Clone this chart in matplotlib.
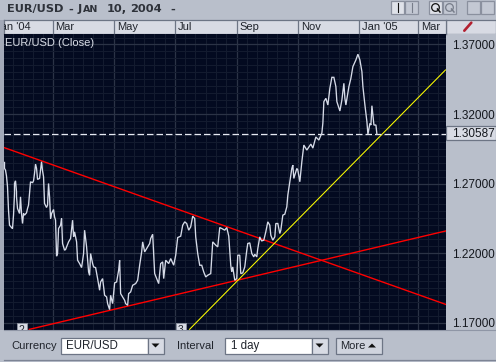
import matplotlib
matplotlib.use("Agg")
import matplotlib.pyplot as plt
from matplotlib.patches import Rectangle, Polygon
from matplotlib.transforms import blended_transform_factory
import numpy as np

# ---- data: x = days since 1 Jan 2004, y = EUR/USD close
days = [12,12,13,14,15,16,17,19,20,21,22,22,23,24,24,25,27,28,29,30,31,32,34,35,36,38,40,41,42,43,44,45,47,48,49,50,51,52,54,55,56,57,58,59,61,62,63,64,65,66,68,69,70,72,73,76,78,80,81,82,84,85,87,89,91,92,94,96,97,98,100,101,103,105,107,108,110,112,114,115,117,118,120,122,124,126,127,128,130,132,133,135,136,138,140,143,145,147,149,150,152,154,157,158,160,161,162,164,166,168,170,171,173,176,178,181,183,185,188,190,192,194,196,198,200,202,203,205,207,209,211,213,215,218,219,220,223,225,227,229,232,234,236,238,239,240,242,244,245,247,248,250,252,254,255,257,259,261,262,264,265,267,268,269,271,273,275,277,278,280,282,283,285,287,288,290,292,294,295,297,299,300,301,304,305,307,309,311,314,318,320,323,326,329,330,331,333,335,337,339,341,343,344,347,349,351,352,353,356,358,360,363,365,367,369,370,372,374,375,377,378,379,381,383,384]
close = [1.2852,1.2809,1.2797,1.2754,1.2677,1.2509,1.2401,1.2384,1.2377,1.2473,1.2629,1.2701,1.2720,1.2641,1.2605,1.2521,1.2485,1.2605,1.2485,1.2413,1.2485,1.2473,1.2490,1.2521,1.2545,1.2713,1.2706,1.2720,1.2773,1.2840,1.2809,1.2730,1.2737,1.2797,1.2857,1.2792,1.2749,1.2557,1.2528,1.2545,1.2701,1.2605,1.2449,1.2485,1.2514,1.2461,1.2437,1.2178,1.2197,1.2377,1.2401,1.2449,1.2269,1.2221,1.2226,1.2281,1.2305,1.2437,1.2317,1.2353,1.2281,1.2149,1.2125,1.2096,1.2197,1.2365,1.2245,1.2065,1.2041,1.2197,1.2125,1.2101,1.2096,1.2017,1.1933,1.1993,1.2017,1.1897,1.1885,1.1837,1.1794,1.1897,1.1837,1.1986,1.1993,1.2077,1.2149,1.1909,1.1885,1.1861,1.1837,1.1825,1.1909,1.1921,1.1969,1.1981,1.2005,1.2113,1.2209,1.2281,1.2209,1.2233,1.2269,1.2305,1.2336,1.2197,1.2053,1.2017,1.1981,1.2125,1.2137,1.2017,1.2149,1.2125,1.2161,1.2113,1.2185,1.2312,1.2322,1.2401,1.2425,1.2413,1.2365,1.2389,1.2466,1.2449,1.2317,1.2197,1.2113,1.2113,1.2065,1.2029,1.2041,1.2053,1.2173,1.2281,1.2257,1.2245,1.2384,1.2377,1.2365,1.2384,1.2322,1.2113,1.2065,1.2101,1.2005,1.2017,1.2185,1.2185,1.2053,1.2058,1.2101,1.2221,1.2269,1.2274,1.2197,1.2173,1.2192,1.2173,1.2233,1.2317,1.2298,1.2288,1.2293,1.2353,1.2425,1.2401,1.2329,1.2293,1.2317,1.2413,1.2413,1.2341,1.2365,1.2473,1.2480,1.2533,1.2617,1.2713,1.2809,1.2833,1.2737,1.2809,1.2797,1.2713,1.2857,1.2977,1.2941,1.2984,1.2955,1.3035,1.3013,1.3063,1.3135,1.3289,1.3313,1.3265,1.3385,1.3464,1.3464,1.3397,1.3289,1.3222,1.3301,1.3421,1.3313,1.3265,1.3397,1.3457,1.3541,1.3589,1.3630,1.3589,1.3505,1.3397,1.3265,1.3145,1.3054,1.3133,1.3121,1.3260,1.3121,1.3121,1.3054]
last_price = 1.30587
month_days = [0,60,121,182,244,305,366,425]
month_labels = ["Jan '04","Mar","May","Jul","Sep","Nov","Jan '05","Mar"]
price_ticks = [1.17,1.22,1.27,1.32,1.37]
red_down_x = [11.5,452.5]
red_down_y = [1.2959,1.1832]
red_up_x = [36.8,452.5]
red_up_y = [1.1652,1.2359]
yellow_x = [196.8,452.5]
yellow_y = [1.1652,1.3517]
x_range = (11.5,452.5)
y_range = (1.1651,1.3779)

W,H = 496,362
PANEL="#b9bfcb"; CELL="#d8dbe4"; EDGE="#6d7585"; BG="#030a20"; MINOR="#141c30"; MAJOR="#2b3346"; INK="#20242c"
UI="Liberation Sans"
plt.rcParams['font.family']=UI
fig=plt.figure(figsize=(W/100,H/100),dpi=100,facecolor=PANEL)
def box(l,t,r,b): return [l/W,1-b/H,(r-l)/W,(b-t)/H]
def layer(z):
    a=fig.add_axes([0,0,1,1],zorder=z); a.set_xlim(0,W); a.set_ylim(H,0); a.axis('off'); a.patch.set_alpha(0); return a
def rect(a,l,t,r,b,fc,ec=EDGE,lw=0.9,z=2):
    a.add_patch(Rectangle((l,t),r-l,b-t,facecolor=fc,edgecolor=ec,linewidth=lw,zorder=z))

# ---- base chrome
base=layer(0)
rect(base,0,20,4,330,"#a3a9b8",ec="none",lw=0)
rect(base,445.5,19.5,496,33.5,CELL)
rect(base,445.5,33.5,496,330,PANEL,ec="none",lw=0)
base.plot([464.3,471.3],[30.7,22.7],color="#b32030",lw=1.9,solid_capstyle='round')
rect(base,446,126,496,140,CELL)
for l,r,fc,ink in [(391,404,"#dfe2e9","#111111"),(405,418,"#c3c8d3","#777d8a"),(429,442,"#dfe2e9","#111111"),(443,456,"#c3c8d3","#777d8a"),(467,480,"#c3c8d3","#8f95a2"),(481,494,"#c3c8d3","#8f95a2")]:
    rect(base,l,1,r,14,fc,ec="#8a909e")
    cx=(l+r)/2
    if l in (391,405):
        base.plot([cx,cx],[3,12],color=ink,lw=0.8)
        base.add_patch(Polygon([(cx-3,4),(cx+3,4),(cx,7)] if l==391 else [(cx-3,5),(cx+3,5),(cx,2.5)],color=ink,lw=0))
        base.add_patch(Polygon([(cx-3,12),(cx+3,12),(cx,9)] if l==391 else [(cx-3,10),(cx+3,10),(cx,12.5)],color=ink,lw=0))
    elif l in (429,443):
        base.plot([cx-0.5],[6.5],marker='o',ms=5.5,mfc='none',mec=ink,mew=0.9)
        base.plot([cx+2,cx+4.5],[9,12],color=ink,lw=1.1)
    elif l==467:
        base.add_patch(Polygon([(cx+2,4),(cx+2,11),(cx-2.5,7.5)],color=ink,lw=0))
    else:
        base.add_patch(Polygon([(cx-2,4),(cx-2,11),(cx+2.5,7.5)],color=ink,lw=0))
# small-caps style title
for txt,x,s in [("EUR/USD",7,8.2),("-",68,8.2),("J",78,8.2),("AN",83,6.8),("10,",107,8.2),("2004",130,8.2),("-",170,8.2)]:
    base.text(x,12.3,txt,fontsize=s,fontweight='bold',family='DejaVu Sans',color="#2e323a",va='baseline',ha='left')

# ---- header strip with month labels
head=fig.add_axes(box(4,20,445.5,33.5),zorder=1,facecolor=CELL)
head.set_xlim(*x_range); head.set_ylim(0,1); head.set_xticks([]); head.set_yticks([])
for s in head.spines.values(): s.set_color(EDGE); s.set_linewidth(0.9)
for d,lab in zip(month_days,month_labels):
    head.axvline(d,color=EDGE,lw=0.9)
    head.text(d+3,0.45,lab,fontsize=8,color=INK,ha='left',va='center',clip_on=True)

# ---- main plot
ax=fig.add_axes(box(4,33.5,445.5,329.5),zorder=1,facecolor=BG)
minor_x=np.concatenate([np.linspace(a,b,6,endpoint=False) for a,b in zip(month_days[:-1],month_days[1:])]+[np.arange(425,453,10)])
ax.set_xticks(minor_x,minor=True)
ax.set_xticks(month_days[1:]); ax.set_xticklabels([])
ax.set_yticks(np.arange(1.17,1.3751,0.005),minor=True)
ax.set_yticks(price_ticks,[f"{p:.5f}" for p in price_ticks])
ax.set_xlim(*x_range); ax.set_ylim(*y_range)
ax.yaxis.tick_right()
ax.tick_params(axis='both',which='both',length=0)
ax.tick_params(axis='y',which='major',pad=5,labelsize=8.5,labelcolor="#14171d")
ax.grid(True,which='minor',color=MINOR,lw=0.7)
ax.grid(True,which='major',color=MAJOR,lw=0.9)
ax.set_axisbelow(True)
for s in ax.spines.values(): s.set_visible(False)
ax.plot(red_up_x,red_up_y,color="#ff0000",lw=1.0,zorder=3)
ax.plot(red_down_x,red_down_y,color="#ff0000",lw=1.0,zorder=3)
ax.plot(yellow_x,yellow_y,color="#ffff00",lw=0.75,zorder=3)
ax.axhline(last_price,color="#e6e9f2",lw=0.9,dashes=(5.2,2.4),zorder=4)
ax.plot(days,close,color="#d6dbe8",lw=0.95,solid_joinstyle='miter',zorder=5)
ax.text(0.003,0.985,"EUR/USD (Close)",transform=ax.transAxes,fontsize=8,color="#d8dce6",ha='left',va='top',zorder=6)
tr=blended_transform_factory(ax.transAxes,ax.transData)
ax.text(1+6.5/441.5,last_price,f"{last_price:.5f}",transform=tr,fontsize=8.5,color="#14171d",ha='left',va='center',clip_on=False,zorder=7)
ax.set_xlim(*x_range); ax.set_ylim(*y_range)

# ---- bottom panel
top=layer(2)
for l,r,d in [(16.5,26.5,"2"),(176,186,"3")]:
    rect(top,l,323,r,332,CELL,ec="#8a909e",lw=0.7,z=2)
    top.text((l+r)/2,333,d,fontsize=7.5,color=INK,ha='center',va='baseline',zorder=2.5,clip_on=True)
rect(top,0,330,W,362,PANEL,ec="none",lw=0,z=3)
top.plot([4,W],[330,330],color="#8f96a6",lw=0.8,zorder=4)
top.plot([4,W],[359.5,359.5],color="#7d8495",lw=0.9,zorder=4)
top.text(11.5,346,"Currency",fontsize=8,color=INK,va='center',zorder=5)
rect(top,61,337.5,148,353.5,"#ffffff",z=4)
rect(top,148,337.5,163.5,353.5,CELL,z=4)
top.add_patch(Polygon([(151.5,343.5),(159.5,343.5),(155.5,347.5)],color="#111111",lw=0,zorder=5))
top.text(66,346,"EUR/USD",fontsize=8.3,color=INK,va='center',zorder=5)
top.text(176.5,346,"Interval",fontsize=8,color=INK,va='center',zorder=5)
rect(top,225,337.5,311.5,353.5,"#ffffff",z=4)
rect(top,311.5,337.5,327.5,353.5,CELL,z=4)
top.add_patch(Polygon([(315.5,343.5),(323.5,343.5),(319.5,347.5)],color="#111111",lw=0,zorder=5))
top.text(231,346,"1 day",fontsize=8.3,color=INK,va='center',zorder=5)
rect(top,335.5,337.5,381.5,353.5,"#d0d4de",z=4)
top.text(340.5,346,"More",fontsize=8,color=INK,va='center',zorder=5)
top.add_patch(Polygon([(368,347.5),(376,347.5),(372,343.5)],color="#111111",lw=0,zorder=5))

fig.savefig("out.png",dpi=100,facecolor=fig.get_facecolor())
